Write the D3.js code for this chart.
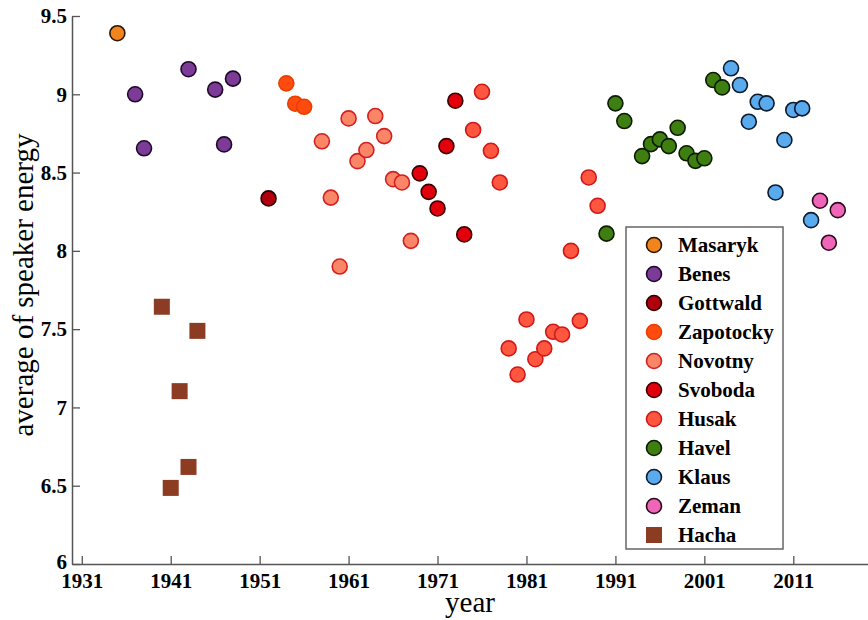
<!DOCTYPE html>
<html>
<head>
<meta charset="utf-8">
<script src="https://cdn.jsdelivr.net/npm/d3@7"></script>
<style>
  html, body { margin: 0; padding: 0; background: #fff; }
  svg { display: block; }
  .tick text { font-family: "Palatino Linotype", "Book Antiqua", Palatino, "Liberation Serif", serif; font-weight: bold; font-size: 21px; fill: #000; }
</style>
</head>
<body>
<svg id="chart" width="868" height="620"></svg>
<script>
// ---- data ----
const presidents = ["Masaryk","Benes","Gottwald","Zapotocky","Novotny","Svoboda","Husak","Havel","Klaus","Zeman","Hacha"];

const masarykYears = [1935];
const masarykValues = [9.39];
const benesYears = [1937, 1938, 1943, 1946, 1947, 1948];
const benesValues = [9.00, 8.655, 9.16, 9.03, 8.68, 9.10];
const gottwaldYears = [1952];
const gottwaldValues = [8.335];
const zapotockyYears = [1954, 1955, 1956];
const zapotockyValues = [9.07, 8.94, 8.92];
const novotnyYears = [1958, 1959, 1960, 1961, 1962, 1963, 1964, 1965, 1966, 1967, 1968];
const novotnyValues = [8.70, 8.34, 7.90, 8.846, 8.573, 8.644, 8.861, 8.733, 8.458, 8.437, 8.064];
const svobodaYears = [1969, 1970, 1971, 1972, 1973, 1974];
const svobodaValues = [8.495, 8.377, 8.271, 8.669, 8.959, 8.105];
const husakYears = [1975, 1976, 1977, 1978, 1979, 1980, 1981, 1982, 1983, 1984, 1985, 1986, 1987, 1988, 1989];
const husakValues = [8.772, 9.016, 8.639, 8.437, 7.377, 7.21, 7.562, 7.308, 7.377, 7.483, 7.466, 8.0, 7.553, 8.469, 8.288];
const havelYears = [1990, 1991, 1992, 1994, 1995, 1996, 1997, 1998, 1999, 2000, 2001, 2002, 2003];
const havelValues = [8.11, 8.942, 8.829, 8.605, 8.682, 8.712, 8.669, 8.786, 8.623, 8.575, 8.591, 9.091, 9.044];
const klausYears = [2004, 2005, 2006, 2007, 2008, 2009, 2010, 2011, 2012, 2013];
const klausValues = [9.166, 9.059, 8.825, 8.952, 8.942, 8.373, 8.708, 8.90, 8.91, 8.196];
const zemanYears = [2014, 2015, 2016];
const zemanValues = [8.32, 8.052, 8.26];
const hachaYears = [1940, 1941, 1942, 1943, 1944];
const hachaValues = [7.643, 6.486, 7.104, 6.62, 7.489];

const xTickValues = [1931, 1941, 1951, 1961, 1971, 1981, 1991, 2001, 2011];
const yTickValues = [6, 6.5, 7, 7.5, 8, 8.5, 9, 9.5];
const yTickLabels = ["6", "6.5", "7", "7.5", "8", "8.5", "9", "9.5"];

const xTitle = "year";
const yTitle = "average of speaker energy";

// ---- styles ----
const fills = {
  Masaryk: "#f2841e", Benes: "#7d3b98", Gottwald: "#b0000e", Zapotocky: "#ff4a10",
  Novotny: "#fb8567", Svoboda: "#e2000c", Husak: "#ff5640", Havel: "#3f7f12",
  Klaus: "#5aaaee", Zeman: "#ef66b9", Hacha: "#8c3c22"
};
const strokes = {
  Masaryk: "#2a1400", Benes: "#1e0a28", Gottwald: "#2a0000", Zapotocky: "#e84000",
  Novotny: "#d42020", Svoboda: "#3a0000", Husak: "#d01818", Havel: "#0c1c00",
  Klaus: "#0c1a2c", Zeman: "#2a0a1c", Hacha: "#8c3c22"
};

const seriesData = {
  Masaryk: [masarykYears, masarykValues],
  Benes: [benesYears, benesValues],
  Gottwald: [gottwaldYears, gottwaldValues],
  Zapotocky: [zapotockyYears, zapotockyValues],
  Novotny: [novotnyYears, novotnyValues],
  Svoboda: [svobodaYears, svobodaValues],
  Husak: [husakYears, husakValues],
  Havel: [havelYears, havelValues],
  Klaus: [klausYears, klausValues],
  Zeman: [zemanYears, zemanValues],
  Hacha: [hachaYears, hachaValues]
};

const serif = '"Palatino Linotype", "Book Antiqua", Palatino, "Liberation Serif", serif';

const svg = d3.select("#chart");
const x = d3.scaleLinear().domain([1929.9, 2019.4]).range([72, 868]);
const y = d3.scaleLinear().domain([6, 9.5]).range([564, 16]);

// axes
const xAxis = d3.axisBottom(x).tickValues(xTickValues).tickFormat(d3.format("d"))
  .tickSizeInner(-8).tickSizeOuter(0).tickPadding(9);
const yAxis = d3.axisLeft(y).tickValues(yTickValues).tickFormat((d, i) => yTickLabels[i])
  .tickSizeInner(-8).tickSizeOuter(0).tickPadding(5);

const gx = svg.append("g").attr("transform", "translate(0,564)").call(xAxis);
const gy = svg.append("g").attr("transform", "translate(72,0)").call(yAxis);
[gx, gy].forEach(g => {
  g.select(".domain").attr("stroke", "#555").attr("stroke-width", 1.5);
  g.selectAll(".tick line").attr("stroke", "#555").attr("stroke-width", 1.3);
  g.selectAll(".tick text").attr("fill", "#000");
});
// the bottom-most y label sits slightly above the corner, as in the reference
gy.selectAll(".tick text").filter(d => d === 6).attr("dy", "0.2em");

// titles
svg.append("text").attr("x", 470).attr("y", 612).attr("text-anchor", "middle")
  .style("font-family", serif).style("font-size", "29px").text(xTitle);
svg.append("text").attr("transform", "translate(33,285) rotate(-90)").attr("text-anchor", "middle")
  .style("font-family", serif).style("font-size", "29px").text(yTitle);

// points
const plot = svg.append("g");
presidents.forEach(p => {
  const [yrs, vals] = seriesData[p];
  const pts = yrs.map((yr, i) => ({ yr, v: vals[i] }));
  if (p === "Hacha") {
    plot.selectAll(null).data(pts).enter().append("rect")
      .attr("x", d => x(d.yr) - 8).attr("y", d => y(d.v) - 8)
      .attr("width", 16).attr("height", 16)
      .attr("fill", fills[p]);
  } else {
    plot.selectAll(null).data(pts).enter().append("circle")
      .attr("cx", d => x(d.yr)).attr("cy", d => y(d.v)).attr("r", 7.5)
      .attr("fill", fills[p]).attr("stroke", strokes[p]).attr("stroke-width", 1.6);
  }
});

// legend
const lg = svg.append("g");
lg.append("rect").attr("x", 626).attr("y", 227).attr("width", 157).attr("height", 322)
  .attr("fill", "#fff").attr("stroke", "#666").attr("stroke-width", 1.5);
presidents.forEach((p, i) => {
  const cy = 245 + i * 29;
  if (p === "Hacha") {
    lg.append("rect").attr("x", 646).attr("y", cy - 8).attr("width", 16).attr("height", 16)
      .attr("fill", fills[p]);
  } else {
    lg.append("circle").attr("cx", 654).attr("cy", cy).attr("r", 7.5)
      .attr("fill", fills[p]).attr("stroke", strokes[p]).attr("stroke-width", 1.6);
  }
  lg.append("text").attr("x", 678).attr("y", cy).attr("dy", "0.35em")
    .style("font-family", serif).style("font-weight", "bold").style("font-size", "21px")
    .text(p);
});
</script>
</body>
</html>
